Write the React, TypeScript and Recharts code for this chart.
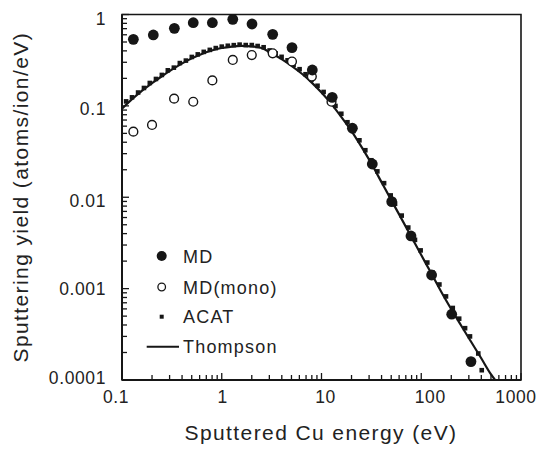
import React from 'react';
import { ScatterChart, Scatter, XAxis, YAxis, Legend, ReferenceArea, Label } from 'recharts';

// ---- data ----
const mdEnergy = [0.13, 0.206, 0.335, 0.518, 0.805, 1.29, 2.01, 3.24, 5.06, 8.09, 12.8, 20.4, 32.3, 50.6, 78.9, 127, 202, 315];
const mdYield = [0.535, 0.597, 0.706, 0.813, 0.813, 0.885, 0.787, 0.607, 0.434, 0.247, 0.124, 0.0569, 0.0231, 0.00895, 0.00377, 0.00141, 0.000525, 0.000159];

const monoEnergy = [0.13, 0.2, 0.333, 0.518, 0.805, 1.29, 2.0, 3.24, 5.06, 8.0, 12.6];
const monoYield = [0.0522, 0.0618, 0.12, 0.111, 0.19, 0.318, 0.36, 0.376, 0.306, 0.209, 0.111];

const acatEnergy = [
  0.11, 0.126, 0.145, 0.166, 0.19, 0.219, 0.251, 0.288, 0.331, 0.38, 0.437, 0.501, 0.575, 0.66, 0.759, 0.871,
  1.0, 1.15, 1.32, 1.51, 1.74, 2.0, 2.29, 2.63, 3.02, 3.47, 3.98, 4.57, 5.25, 6.03, 6.92, 7.94, 9.12,
  10.5, 12.0, 13.8, 15.8, 18.2, 20.9, 24.0, 27.5, 31.6, 36.3, 42.4, 49.4, 54.6, 63.7, 74.1, 86.5, 98.6,
  115, 130, 152, 177, 207, 240, 275, 308, 373, 404,
];
const acatYield = [
  0.112, 0.124, 0.14, 0.157, 0.178, 0.197, 0.218, 0.245, 0.262, 0.294, 0.313, 0.343, 0.366, 0.39, 0.41, 0.429,
  0.445, 0.455, 0.462, 0.468, 0.463, 0.463, 0.452, 0.438, 0.404, 0.375, 0.344, 0.315, 0.282, 0.252, 0.222, 0.194, 0.166,
  0.142, 0.119, 0.0998, 0.082, 0.0662, 0.0531, 0.042, 0.0327, 0.0254, 0.0192, 0.01426, 0.01047, 0.00849, 0.0063, 0.00466, 0.00342, 0.00262,
  0.00193, 0.0015, 0.00111, 0.000822, 0.000614, 0.000469, 0.000369, 0.0003, 0.000195, 0.000128,
];

const thompsonEnergy = [
  0.1, 0.126, 0.158, 0.2, 0.251, 0.316, 0.398, 0.501, 0.631, 0.794, 1.0, 1.26, 1.58, 2.0, 2.51, 3.16, 3.98,
  5.01, 6.31, 7.94, 10, 12.6, 15.8, 20, 25.1, 31.6, 39.8, 50.1, 63.1, 79.4, 100, 126, 158, 200, 251, 316, 398, 501, 550,
];
const thompsonYield = [
  0.093, 0.118, 0.146, 0.177, 0.211, 0.249, 0.29, 0.331, 0.37, 0.404, 0.43, 0.446, 0.453, 0.448, 0.43, 0.375, 0.325,
  0.274, 0.226, 0.181, 0.14, 0.1046, 0.0757, 0.053, 0.0358, 0.0234, 0.01474, 0.0093, 0.00587, 0.0037, 0.00233, 0.00147,
  0.00093, 0.000595, 0.000395, 0.000262, 0.000174, 0.000115, 0.0001,
];

const xMajorTicks = [0.1, 1, 10, 100, 1000];
const xTickLabels = ['0.1', '1', '10', '100', '1000'];
const xMinorTicks = [
  0.2, 0.3, 0.4, 0.5, 0.6, 0.7, 0.8, 0.9,
  2, 3, 4, 5, 6, 7, 8, 9,
  20, 30, 40, 50, 60, 70, 80, 90,
  200, 300, 400, 500, 600, 700, 800, 900,
];
const yMajorTicks = [0.0001, 0.001, 0.01, 0.1, 1];
const yTickLabels = ['0.0001', '0.001', '0.01', '0.1', '1'];
const yMinorTicks = [
  0.0002, 0.0003, 0.0004, 0.0005, 0.0006, 0.0007, 0.0008, 0.0009,
  0.002, 0.003, 0.004, 0.005, 0.006, 0.007, 0.008, 0.009,
  0.02, 0.03, 0.04, 0.05, 0.06, 0.07, 0.08, 0.09,
  0.2, 0.3, 0.4, 0.5, 0.6, 0.7, 0.8, 0.9,
];

const seriesNames = ['MD', 'MD(mono)', 'ACAT', 'Thompson'];
const xTitle = 'Sputtered Cu energy (eV)';
const yTitle = 'Sputtering yield (atoms/ion/eV)';

// ---- build ----
const zip = (xs: number[], ys: number[]) => xs.map((x, i) => ({ x, y: ys[i] }));
const mdData = zip(mdEnergy, mdYield);
const monoData = zip(monoEnergy, monoYield);
const acatData = zip(acatEnergy, acatYield);
const thompsonData = zip(thompsonEnergy, thompsonYield);

const INK = '#161616';
const TEXT = '#222';
const FONT = '"Liberation Sans", Arial, Helvetica, sans-serif';

const xLabelShift = [-6, 1, 4, 9, -5];
const yLabelShift = [-2, 0, 4, 3, 4];

const findMajor = (v: number, majors: number[]) =>
  majors.findIndex((m) => Math.abs(v - m) / m < 1e-6);

const XTick = (props: any) => {
  const { x, y, payload } = props;
  const idx = findMajor(payload.value, xMajorTicks);
  const major = idx >= 0;
  return (
    <g>
      <line x1={x} x2={x} y1={y} y2={y - (major ? 7 : 5)} stroke={INK} strokeWidth={1.3} />
      {major && (
        <text
          x={x + xLabelShift[idx]}
          y={y + 23}
          textAnchor="middle"
          fontSize={17.5}
          fontFamily={FONT}
          fill={TEXT}
          letterSpacing={0.6}
        >
          {xTickLabels[idx]}
        </text>
      )}
    </g>
  );
};

const YTick = (props: any) => {
  const { x, y, payload } = props;
  const idx = findMajor(payload.value, yMajorTicks);
  const major = idx >= 0;
  return (
    <g>
      <line x1={x} x2={x + (major ? 7 : 5)} y1={y} y2={y} stroke={INK} strokeWidth={1.3} />
      {major && (
        <text
          x={x - 16}
          y={y + 6 + yLabelShift[idx]}
          textAnchor="end"
          fontSize={17.5}
          fontFamily={FONT}
          fill={TEXT}
          letterSpacing={0.6}
        >
          {yTickLabels[idx]}
        </text>
      )}
    </g>
  );
};

const FilledDot = (p: any) => <circle cx={p.cx} cy={p.cy} r={5.4} fill={INK} />;
const OpenDot = (p: any) => (
  <circle cx={p.cx} cy={p.cy} r={4.4} fill="#fff" stroke={INK} strokeWidth={1.4} />
);
const SquareDot = (p: any) => (
  <rect x={p.cx - 2.3} y={p.cy - 2.3} width={4.6} height={4.6} fill={INK} />
);
const NoDot = () => <g />;

const LegendBox = () => {
  const rows = [18, 49, 78.7, 108.7];
  const sx = 23.7;
  return (
    <svg width={160} height={130} style={{ overflow: 'visible' }}>
      <circle cx={sx} cy={rows[0]} r={5} fill={INK} />
      <circle cx={sx} cy={rows[1]} r={3.8} fill="#fff" stroke={INK} strokeWidth={1.3} />
      <rect x={sx - 2} y={rows[2] - 2} width={4} height={4} fill={INK} />
      <line x1={8.7} x2={41} y1={rows[3]} y2={rows[3]} stroke={INK} strokeWidth={2} />
      {seriesNames.map((n, i) => (
        <text
          key={n}
          x={45}
          y={rows[i] + 6.5}
          fontSize={18}
          fontFamily={FONT}
          fill={TEXT}
          letterSpacing={1.2}
        >
          {n}
        </text>
      ))}
    </svg>
  );
};

const XTitle = (props: any) => {
  const vb = props.viewBox || {};
  const cx = vb.x + vb.width / 2;
  return (
    <text
      x={cx - 0.5}
      y={vb.y + 60}
      textAnchor="middle"
      fontSize={21}
      fontFamily={FONT}
      fill={TEXT}
      letterSpacing={1.4}
    >
      {xTitle}
    </text>
  );
};

const YTitle = (props: any) => {
  const vb = props.viewBox || {};
  const cy = vb.y + vb.height / 2;
  const bx = 20;
  return (
    <text
      x={bx}
      y={cy}
      transform={`rotate(-90 ${bx} ${cy})`}
      textAnchor="middle"
      fontSize={21}
      fontFamily={FONT}
      fill={TEXT}
      letterSpacing={1.4}
    >
      {yTitle}
    </text>
  );
};

export default function App() {
  return (
    <ScatterChart
      width={536}
      height={441}
      margin={{ top: 6.5, right: 23, bottom: 0, left: 0 }}
      style={{ fontFamily: FONT }}
    >
      <XAxis
        type="number"
        dataKey="x"
        scale="log"
        domain={[0.1, 1000]}
        ticks={[...xMajorTicks, ...xMinorTicks]}
        interval={0}
        tickSize={0}
        tickMargin={0}
        tickLine={false}
        tick={<XTick />}
        axisLine={{ stroke: INK, strokeWidth: 2 }}
        height={69}
        allowDataOverflow
      >
        <Label content={<XTitle />} />
      </XAxis>
      <YAxis
        type="number"
        dataKey="y"
        scale="log"
        domain={[0.0001, 1]}
        ticks={[...yMajorTicks, ...yMinorTicks]}
        interval={0}
        tickSize={0}
        tickMargin={0}
        tickLine={false}
        tick={<YTick />}
        axisLine={{ stroke: INK, strokeWidth: 2 }}
        width={114}
        allowDataOverflow
      >
        <Label content={<YTitle />} />
      </YAxis>
      <ReferenceArea x1={0.1} x2={1000} y1={0.0001} y2={1} fill="none" stroke={INK} strokeWidth={1.6} />
      <Scatter
        name="Thompson"
        data={thompsonData}
        line={{ stroke: INK, strokeWidth: 2.2 }}
        lineJointType="monotoneX"
        shape={<NoDot />}
        isAnimationActive={false}
      />
      <Scatter name="ACAT" data={acatData} shape={<SquareDot />} isAnimationActive={false} />
      <Scatter name="MD(mono)" data={monoData} shape={<OpenDot />} isAnimationActive={false} />
      <Scatter name="MD" data={mdData} shape={<FilledDot />} isAnimationActive={false} />
      <Legend
        layout="vertical"
        align="center"
        verticalAlign="middle"
        content={<LegendBox />}
        wrapperStyle={{ left: 130, top: 230, width: 160, height: 130 }}
      />
    </ScatterChart>
  );
}
